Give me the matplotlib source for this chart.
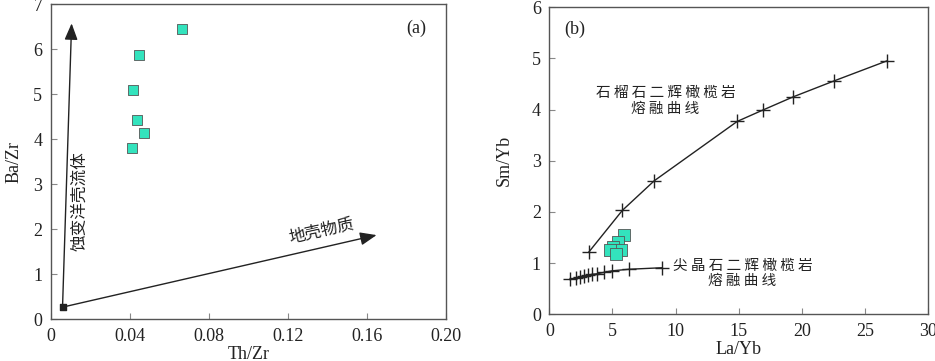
import numpy as np
import matplotlib
matplotlib.use("Agg")
import matplotlib.pyplot as plt

plt.rcParams['font.family'] = ['Liberation Serif', 'Noto Sans CJK SC']

# (a) Th/Zr vs Ba/Zr samples
thzr = [0.0663, 0.0447, 0.0418, 0.0435, 0.0474, 0.0412]
bazr = [6.44, 5.87, 5.08, 4.42, 4.14, 3.80]
origin_a = (0.006, 0.27)
fluid_tip = (0.0106, 6.57)
crust_tip = (0.165, 1.87)

# (b) La/Yb vs Sm/Yb samples
layb = [5.91, 5.46, 5.07, 5.68, 4.80, 5.28]
smyb = [1.54, 1.42, 1.32, 1.26, 1.26, 1.18]

# garnet lherzolite melting curve
garnet_x = [3.14, 5.78, 8.31, 14.88, 16.89, 19.31, 22.53, 26.70]
garnet_y = [1.22, 2.03, 2.61, 3.77, 3.99, 4.25, 4.56, 4.95]

# spinel lherzolite melting curve
spinel_x = [1.64, 2.09, 2.46, 2.77, 3.09, 3.40, 3.75, 4.33, 4.99, 6.31, 8.94]
spinel_y = [0.68, 0.71, 0.73, 0.75, 0.76, 0.78, 0.79, 0.82, 0.85, 0.88, 0.91]

sq_color = '#33E3BD'
txt_color = '#222222'
cjk = ['Noto Sans CJK SC', 'DejaVu Sans']

fig = plt.figure(figsize=(9.35, 3.61), dpi=100)
ax1 = fig.add_axes([0.0542, 0.1155, 0.4225, 0.8734])
ax2 = fig.add_axes([0.5875, 0.1294, 0.4053, 0.8504])

for ax in (ax1, ax2):
    for s in ax.spines.values():
        s.set_color('#555555')
        s.set_linewidth(1.0)
    ax.tick_params(direction='in', length=4, width=0.8, color='#888888',
                   labelsize=13, labelcolor=txt_color, pad=6)

# ---- panel (a)
ax1.scatter(thzr, bazr, marker='s', s=60, color=sq_color, edgecolors='#555555',
            linewidths=0.6, zorder=3)
ax1.scatter([origin_a[0]], [origin_a[1]], marker='s', s=22, color='#222222', zorder=4)
arrow = dict(arrowstyle='-|>,head_length=1.0,head_width=0.4', color='#222222',
             lw=1.0, shrinkA=0, shrinkB=0)
ax1.annotate('', xy=fluid_tip, xytext=origin_a, arrowprops=arrow)
ax1.annotate('', xy=crust_tip, xytext=origin_a, arrowprops=arrow)
ax1.text(0.0148, 2.63, '蚀变洋壳流体', rotation=90, family=cjk, fontsize=12,
         color=txt_color, ha='center', va='center')
ax1.text(0.137, 1.95, '地壳物质', rotation=12.5, family=cjk, fontsize=12,
         color=txt_color, ha='center', va='center')
ax1.text(0.185, 6.45, '(a)', fontsize=13, color=txt_color, ha='center', va='center')
ax1.set_xlim(0, 0.2)
ax1.set_ylim(0, 7)
ax1.set_xticks([0, 0.04, 0.08, 0.12, 0.16, 0.20])
ax1.set_xticklabels(['0', '0.04', '0.08', '0.12', '0.16', '0.20'])
ax1.set_yticks(range(0, 8))
ax1.set_xlabel('Th/Zr', fontsize=13, color=txt_color, labelpad=1)
ax1.set_ylabel('Ba/Zr', fontsize=13, color=txt_color, labelpad=8)

# ---- panel (b)
ax2.plot(garnet_x, garnet_y, color='#222222', lw=1.0, marker='+', ms=10, mew=1.0)
ax2.plot(spinel_x, spinel_y, color='#222222', lw=1.0, marker='+', ms=10, mew=1.0)
ax2.scatter(layb, smyb, marker='s', s=70, color=sq_color, edgecolors='#555555',
            linewidths=0.6, zorder=3)
ax2.text(2.03, 5.57, '(b)', fontsize=13, color=txt_color, ha='center', va='center')
ax2.text(9.2, 4.17, ' '.join('石榴石二辉橄榄岩') + '\n' + ' '.join('熔融曲线'),
         family=cjk, fontsize=10.5, color=txt_color, ha='center', va='center',
         linespacing=1.1)
ax2.text(15.3, 0.80, ' '.join('尖晶石二辉橄榄岩') + '\n' + ' '.join('熔融曲线'),
         family=cjk, fontsize=10.5, color=txt_color, ha='center', va='center',
         linespacing=1.1)
ax2.set_xlim(0, 30)
ax2.set_ylim(0, 6)
ax2.set_xticks(range(0, 31, 5))
ax2.set_yticks(range(0, 7))
ax2.set_xlabel('La/Yb', fontsize=13, color=txt_color, labelpad=1)
ax2.set_ylabel('Sm/Yb', fontsize=13, color=txt_color, labelpad=14)

fig.savefig('out.png', dpi=100)
